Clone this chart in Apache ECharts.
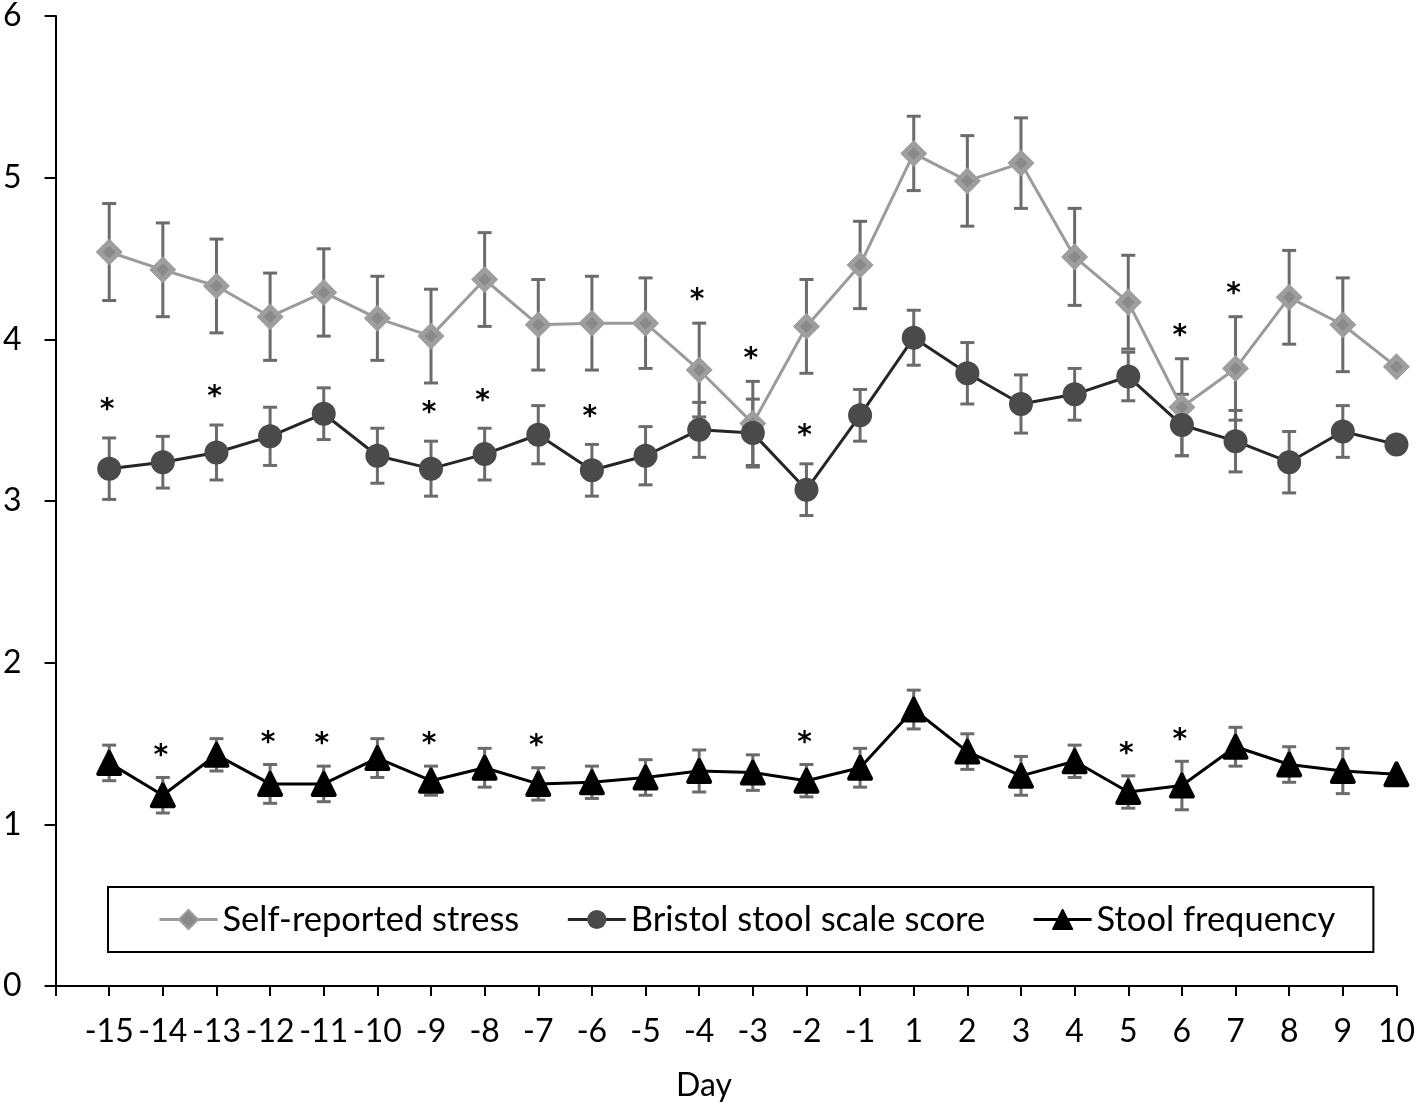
<!DOCTYPE html>
<html><head><meta charset="utf-8">
<script src="https://cdn.jsdelivr.net/npm/echarts@6/dist/echarts.min.js"></script>
<style>html,body{margin:0;padding:0;background:#fff}#c{width:1418px;height:1107px}</style>
</head><body><div id="c"></div>
<script>
// ---- data ----
const days = ['-15','-14','-13','-12','-11','-10','-9','-8','-7','-6','-5','-4','-3','-2','-1','1','2','3','4','5','6','7','8','9','10'];
const stress   = [4.54,4.43,4.33,4.14,4.29,4.13,4.02,4.37,4.09,4.10,4.10,3.81,3.48,4.08,4.46,5.15,4.98,5.09,4.51,4.23,3.58,3.82,4.26,4.09,3.83];
const stressSE = [0.30,0.29,0.29,0.27,0.27,0.26,0.29,0.29,0.28,0.29,0.28,0.29,0.26,0.29,0.27,0.23,0.28,0.28,0.30,0.29,0.30,0.32,0.29,0.29,null];
const bristol   = [3.20,3.24,3.30,3.40,3.54,3.28,3.20,3.29,3.41,3.19,3.28,3.44,3.42,3.07,3.53,4.01,3.79,3.60,3.66,3.77,3.47,3.37,3.24,3.43,3.35];
const bristolSE = [0.19,0.16,0.17,0.18,0.16,0.17,0.17,0.16,0.18,0.16,0.18,0.17,0.21,0.16,0.16,0.17,0.19,0.18,0.16,0.15,0.19,0.19,0.19,0.16,null];
const freq   = [1.38,1.18,1.43,1.25,1.25,1.41,1.27,1.35,1.25,1.26,1.29,1.33,1.32,1.27,1.35,1.71,1.45,1.30,1.39,1.20,1.24,1.48,1.37,1.33,1.31];
const freqSE = [0.11,0.11,0.10,0.12,0.11,0.12,0.09,0.12,0.10,0.10,0.11,0.13,0.11,0.10,0.12,0.12,0.11,0.12,0.10,0.10,0.15,0.12,0.11,0.14,null];
const stressSig  = ['-4','-3','6','7'];
const bristolSig = ['-15','-13','-9','-8','-6','-2'];
const freqSig    = ['-14','-12','-11','-9','-7','-2','5','6'];
const seriesNames = ['Self-reported stress','Bristol stool scale score','Stool frequency'];
const yTicks = [0,1,2,3,4,5,6];

// ---- chart ----
const FONT = 'Lato';
const cats = [''].concat(days);
const lineData = v => [null].concat(v);
const errData = (v, se) => days.map((d,i) => se[i] == null ? null : [d, v[i], se[i]]).filter(Boolean);
const sigData = (v, se, sig) => days.map((d,i) => sig.indexOf(d) >= 0 ? [d, v[i] + (se[i]||0)] : null).filter(Boolean);

function errRender(params, api){
  const x = api.value(0), y = api.value(1), e = api.value(2);
  const t = api.coord([x, y + e]), b = api.coord([x, y - e]);
  const w = 7, st = {stroke:'#6b6b6b', lineWidth:3};
  return {type:'group', children:[
    {type:'line', shape:{x1:t[0], y1:t[1], x2:b[0], y2:b[1]}, style:st},
    {type:'line', shape:{x1:t[0]-w, y1:t[1], x2:t[0]+w, y2:t[1]}, style:st},
    {type:'line', shape:{x1:b[0]-w, y1:b[1], x2:b[0]+w, y2:b[1]}, style:st}
  ]};
}
function sigRender(off){
  return function(params, api){
    const p = api.coord([api.value(0), api.value(1)]);
    return {type:'text', x:p[0] - 2, y:p[1] - off, style:{text:'*', font:'bold 28px "DejaVu Sans"', fill:'#000', align:'center', verticalAlign:'middle'}};
  };
}

const chart = echarts.init(document.getElementById('c'), null, {renderer:'canvas'});
chart.setOption({
  animation:false,
  backgroundColor:'#fff',
  grid:{left:52, right:18, top:13, bottom:119, containLabel:false},
  xAxis:{
    type:'category', data:cats, boundaryGap:false,
    axisLine:{show:true, lineStyle:{color:'#000', width:2}},
    axisTick:{show:true, length:10, lineStyle:{color:'#000', width:2}},
    axisLabel:{interval:0, margin:30, color:'#000', fontFamily:FONT, fontSize:32},
    splitLine:{show:false},
    name:'Day', nameLocation:'middle', nameGap:84,
    nameTextStyle:{color:'#000', fontFamily:FONT, fontSize:32, padding:[0,44,0,0]}
  },
  yAxis:{
    type:'value', min:yTicks[0], max:yTicks[yTicks.length-1], interval:1,
    axisLine:{show:true, lineStyle:{color:'#000', width:2}},
    axisTick:{show:true, length:11, lineStyle:{color:'#000', width:2}},
    axisLabel:{margin:34, color:'#000', fontFamily:FONT, fontSize:32},
    splitLine:{show:false}
  },
  legend:{
    data:seriesNames, left:108, top:887, orient:'horizontal',
    itemWidth:58, itemHeight:24, itemGap:47, padding:[15,38,15,50],
    borderColor:'#000', borderWidth:2,
    lineStyle:{width:3},
    textStyle:{fontFamily:FONT, fontSize:34.5, color:'#000'}
  },
  series:[
    {type:'custom', name:'stressErr', renderItem:errRender, data:errData(stress, stressSE), encode:{x:0, y:1}, z:2, silent:true},
    {type:'custom', name:'bristolErr', renderItem:errRender, data:errData(bristol, bristolSE), encode:{x:0, y:1}, z:2, silent:true},
    {type:'custom', name:'freqErr', renderItem:errRender, data:errData(freq, freqSE), encode:{x:0, y:1}, z:2, silent:true},
    {type:'line', name:seriesNames[0], data:lineData(stress), symbol:'diamond', symbolSize:20, showAllSymbol:true,
      lineStyle:{color:'#9b9b9b', width:3}, itemStyle:{color:'#8a8a8a', borderColor:'#9e9e9e', borderWidth:5}, z:3},
    {type:'line', name:seriesNames[1], data:lineData(bristol), symbol:'circle', symbolSize:24, showAllSymbol:true,
      lineStyle:{color:'#262626', width:3}, itemStyle:{color:'#4a4a4a', borderColor:'#4a4a4a', borderWidth:0}, z:3},
    {type:'line', name:seriesNames[2], data:lineData(freq), symbol:'triangle', symbolSize:22, showAllSymbol:true,
      lineStyle:{color:'#000', width:3}, itemStyle:{color:'#000', borderColor:'#000', borderWidth:4, borderJoin:'round'}, z:3},
    {type:'custom', name:'stressSig', renderItem:sigRender(22), data:sigData(stress, stressSE, stressSig), encode:{x:0, y:1}, z:5, silent:true},
    {type:'custom', name:'bristolSig', renderItem:sigRender(27), data:sigData(bristol, bristolSE, bristolSig), encode:{x:0, y:1}, z:5, silent:true},
    {type:'custom', name:'freqSig', renderItem:sigRender(21), data:sigData(freq, freqSE, freqSig), encode:{x:0, y:1}, z:5, silent:true}
  ]
});
</script></body></html>
